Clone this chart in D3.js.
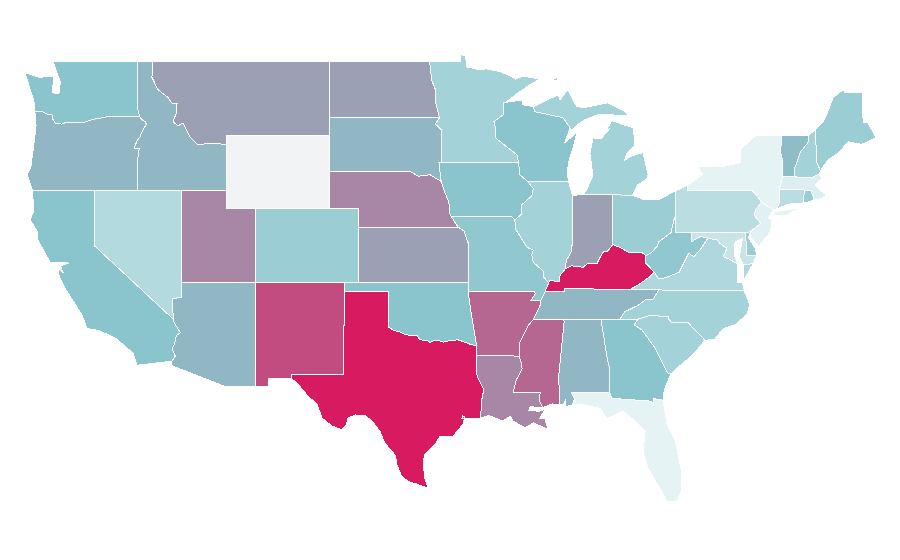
<!DOCTYPE html>
<html>
<head>
<meta charset="utf-8">
<script src="https://cdn.jsdelivr.net/npm/d3@7"></script>
<style>
  html, body { margin: 0; padding: 0; background: #fff; }
  svg { display: block; }
  .state { stroke: #fff; stroke-width: 1px; shape-rendering: crispEdges; }
</style>
</head>
<body>
<div id="map"></div>
<script>
// shared borders, lon/lat, so neighbouring states line up
const columbia = [[-124.03,46.28],[-123.5,46.27],[-123.2,46.15],[-122.87,46.1],[-122.8,45.85],[-122.66,45.65],[-122.2,45.6],[-121.9,45.7],[-120.8,45.67],[-120.1,45.85],[-119.07,46.0],[-116.92,46.0]];
const snake = [[-116.92,46.0],[-116.78,45.85],[-116.55,45.73],[-116.46,45.6],[-116.7,45.28],[-116.9,44.9],[-117.05,44.75],[-117.3,44.3],[-116.95,44.25],[-117.03,43.8],[-117.03,42.0]];
const idMt = [[-116.05,49.0],[-116.08,48.13],[-115.72,47.55],[-115.67,47.47],[-115.0,47.05],[-114.75,46.75],[-114.38,46.7],[-114.45,46.15],[-114.65,45.72],[-114.3,45.5],[-113.97,45.67],[-113.5,44.9],[-112.95,44.47],[-112.3,44.55],[-111.6,44.55],[-111.05,44.47]];
const coloradoRiver = [[-114.63,35.0],[-114.57,34.8],[-114.15,34.27],[-114.43,34.1],[-114.53,33.7],[-114.72,33.4],[-114.5,33.0],[-114.72,32.72]];
const rioGrande = [[-97.34,25.82],[-97.6,25.9],[-98.2,26.07],[-98.7,26.2],[-99.15,26.5],[-99.45,27.1],[-99.55,27.6],[-100.3,28.3],[-100.6,28.9],[-101.14,29.47],[-101.6,29.77],[-102.3,29.8],[-102.77,29.63],[-102.9,29.25],[-103.18,29.0],[-103.86,29.2],[-104.54,29.63],[-104.88,30.4],[-105.5,30.83],[-106.2,31.5],[-106.64,31.8]];
const redRiver = [[-100.0,34.56],[-99.7,34.4],[-99.2,34.3],[-98.9,34.17],[-98.4,34.1],[-98.1,34.13],[-97.9,33.88],[-97.45,33.85],[-97.2,33.75],[-96.9,33.85],[-96.6,33.85],[-96.3,33.75],[-95.8,33.85],[-95.3,33.88],[-94.9,33.77],[-94.48,33.64],[-94.04,33.55]];
const sabine = [[-94.04,33.02],[-94.04,32.0],[-93.8,31.55],[-93.55,31.2],[-93.7,30.6],[-93.7,30.3],[-93.8,29.63]];
const neSd = [[-104.05,43.0],[-98.5,43.0],[-98.0,42.77],[-97.2,42.85],[-96.7,42.6],[-96.45,42.49]];
const neIa = [[-96.45,42.49],[-96.25,42.0],[-96.0,41.5],[-95.9,41.2],[-95.85,40.7],[-95.77,40.58]];
const neMo = [[-95.77,40.58],[-95.3,40.0]];
const ksMo = [[-95.3,40.0],[-94.9,39.8],[-94.6,39.1],[-94.62,37.0]];
const mnWi = [[-92.25,46.76],[-92.25,46.1],[-92.86,45.73],[-92.75,45.3],[-92.75,44.85],[-92.0,44.36],[-91.3,43.93],[-91.2,43.5]];
const iaWi = [[-91.2,43.5],[-91.1,42.84],[-90.6,42.5]];
const iaIl = [[-90.6,42.5],[-90.2,42.1],[-90.3,41.7],[-91.0,41.2],[-91.0,40.7],[-91.45,40.4]];
const moIl = [[-91.45,40.4],[-91.4,39.9],[-90.7,39.0],[-90.6,38.9],[-90.2,38.75],[-90.3,38.5],[-90.2,38.1],[-89.5,37.6],[-89.5,37.3],[-89.15,36.98]];
const moKy = [[-89.15,36.98],[-89.4,36.5]];
const arTn = [[-89.7,36.0],[-89.74,35.74],[-90.2,34.98]];
const arMs = [[-90.2,34.98],[-90.55,34.65],[-91.15,33.67],[-91.15,33.0]];
const laMs = [[-91.15,33.0],[-91.0,32.6],[-90.95,32.3],[-91.35,31.7],[-91.57,31.0],[-89.73,31.0],[-89.8,30.6],[-89.55,30.2]];
const ohKy = [[-82.55,38.45],[-82.85,38.65],[-83.3,38.6],[-83.65,38.6],[-84.3,38.9],[-84.8,39.05]];
const inKy = [[-84.8,39.05],[-85.15,38.7],[-85.45,38.65],[-85.7,38.3],[-85.87,38.03],[-86.2,38.0],[-86.5,38.03],[-86.82,37.82],[-87.23,37.87],[-87.6,37.9],[-88.04,37.72]];
const ilKy = [[-88.04,37.72],[-88.38,37.38],[-88.45,37.05],[-89.06,37.1],[-89.15,36.98]];
const ilIn = [[-87.53,41.7],[-87.53,39.35],[-87.6,38.7],[-87.95,38.2],[-88.04,37.72]];
const alGa = [[-85.6,35.0],[-85.18,32.87],[-85.0,32.3],[-85.05,31.55],[-85.0,31.0]];
const gaSc = [[-83.1,35.0],[-83.35,34.7],[-82.8,34.4],[-81.9,33.4],[-81.4,32.6],[-81.1,32.1],[-80.85,32.03]];
const ncSc = [[-83.1,35.0],[-82.3,35.2],[-81.05,35.15],[-81.05,35.05],[-80.8,34.82],[-79.67,34.8],[-78.55,33.86]];
const ncTn = [[-84.32,35.0],[-84.0,35.4],[-83.1,35.75],[-82.6,36.05],[-82.05,36.1],[-81.68,36.59]];
const kyVa = [[-83.68,36.6],[-83.1,36.85],[-82.3,37.3],[-82.07,37.49],[-81.97,37.54]];
const kyWv = [[-81.97,37.54],[-82.61,38.09],[-82.55,38.45]];
const ohWv = [[-82.55,38.45],[-82.2,38.6],[-81.75,39.0],[-81.7,39.2],[-80.85,39.7],[-80.65,40.4],[-80.52,40.64]];
const vaWv = [[-81.97,37.54],[-81.7,37.2],[-81.25,37.25],[-80.3,37.55],[-79.65,38.58],[-79.3,38.4],[-78.87,38.77],[-78.35,39.4]];
const potomac = [[-78.35,39.4],[-77.75,39.32],[-77.5,39.1],[-77.05,38.85],[-77.3,38.4],[-77.0,38.3],[-76.3,38.0]];
const nyPa = [[-79.76,42.0],[-75.35,42.0],[-75.05,41.75],[-74.7,41.36]];
const njPa = [[-74.7,41.36],[-75.1,40.95],[-75.2,40.65],[-74.75,40.2],[-75.4,39.8]];
const nhVt = [[-71.5,45.0],[-71.55,44.6],[-72.05,44.1],[-72.45,43.2],[-72.46,42.73]];
const rev = a => a.slice().reverse();

const stateNames = ["Alabama","Arizona","Arkansas","California","Colorado","Connecticut","Delaware","Florida","Georgia","Idaho","Illinois","Indiana","Iowa","Kansas","Kentucky","Louisiana","Maine","Maryland","Massachusetts","Michigan","Minnesota","Mississippi","Missouri","Montana","Nebraska","Nevada","New Hampshire","New Jersey","New Mexico","New York","North Carolina","North Dakota","Ohio","Oklahoma","Oregon","Pennsylvania","Rhode Island","South Carolina","South Dakota","Tennessee","Texas","Utah","Vermont","Virginia","Washington","West Virginia","Wisconsin","Wyoming"];
// Wyoming has no value, it gets the blank colour
const stateValues = [45,45,73,40,33,19,33,0,40,45,29,53,40,53,100,62,33,13,4,29,29,73,37,53,62,22,29,2,83,0,29,53,33,40,45,19,33,29,45,45,100,62,43,24,40,37,40,null];

const stateOutlines = [
  /* AL */ [[[-85.6,35.0],...alGa.slice(1),[-87.6,31.0],[-87.4,30.65],[-87.55,30.35],[-88.0,30.25],[-88.0,30.65],[-88.15,30.35],[-88.4,30.35],[-88.47,31.9],[-88.1,34.9],[-88.2,35.0]]],
  /* AZ */ [[[-114.05,37.0],[-109.05,37.0],[-109.05,31.33],[-111.07,31.33],[-114.8,32.5],...rev(coloradoRiver),[-114.7,36.1],[-114.05,36.2]]],
  /* AR */ [[[-94.62,36.5],[-90.15,36.5],[-90.05,36.4],[-90.37,36.0],...arTn,...arMs.slice(1),[-94.04,33.02],[-94.04,33.55],[-94.48,33.64],[-94.43,35.4]]],
  /* CA */ [[[-124.2,42.0],[-120.0,42.0],[-120.0,39.0],...coloradoRiver,[-117.1,32.5],[-117.37,33.17],[-118.6,34.0],[-119.74,34.4],[-120.5,34.5],[-120.83,35.23],[-122.0,36.7],[-122.46,37.5],[-122.45,37.75],[-122.1,37.5],[-122.3,37.9],[-121.7,38.05],[-122.5,38.1],[-123.0,38.1],[-123.82,39.3],[-123.82,39.7],[-124.35,40.4],[-124.1,40.9]]],
  /* CO */ [[[-109.05,41.0],[-102.05,41.0],[-102.05,37.0],[-109.05,37.0]]],
  /* CT */ [[[-73.5,42.05],[-71.8,42.02],[-71.85,41.32],[-72.9,41.25],[-73.65,41.0],[-73.5,41.3]]],
  /* DE */ [[[-75.79,39.72],[-75.6,39.82],[-75.4,39.8],[-75.6,39.45],[-75.1,38.8],[-75.05,38.45],[-75.7,38.46]]],
  /* FL */ [[[-87.6,31.0],[-85.0,31.0],[-84.85,30.7],[-82.2,30.55],[-82.05,30.36],[-82.05,30.7],[-81.39,30.6],[-81.12,29.3],[-80.55,28.4],[-80.23,27.1],[-80.1,26.58],[-80.15,25.7],[-80.44,25.1],[-81.12,25.1],[-81.6,25.8],[-82.4,26.9],[-82.75,27.83],[-82.6,28.92],[-83.3,29.47],[-84.1,30.0],[-85.2,29.6],[-85.66,30.15],[-87.0,30.4],[-87.55,30.35],[-87.4,30.65]]],
  /* GA */ [[[-85.6,35.0],[-84.32,35.0],...gaSc,[-81.3,31.2],[-81.39,30.6],[-82.05,30.7],[-82.05,30.36],[-82.2,30.55],[-84.85,30.7],...rev(alGa)]],
  /* ID */ [[[-117.04,49.0],...idMt,[-111.05,42.0],...rev(snake),[-117.04,46.42]]],
  /* IL */ [[[-90.6,42.5],[-87.8,42.49],...ilIn,...ilKy.slice(1),...rev(moIl).slice(1),...rev(iaIl).slice(1)]],
  /* IN */ [[[-87.53,41.7],[-87.2,41.75],[-86.82,41.76],[-84.8,41.76],...inKy,...rev(ilIn).slice(1)]],
  /* IA */ [[[-96.45,43.5],[-91.2,43.5],...iaWi.slice(1),...iaIl.slice(1),[-91.7,40.6],...rev(neIa),[-96.6,43.5]]],
  /* KS */ [[[-102.05,40.0],...ksMo,[-102.05,37.0]]],
  /* KY */ [[[-89.4,36.5],[-88.05,36.5],[-88.07,36.68],[-86.5,36.65],...kyVa,...kyWv.slice(1),...ohKy.slice(1),...inKy.slice(1),...ilKy.slice(1)]],
  /* LA */ [[...laMs,[-89.7,30.2],[-90.4,30.25],[-90.5,30.05],[-89.8,30.0],[-89.4,30.12],[-89.74,29.63],[-89.4,29.58],[-89.2,29.03],[-90.2,29.37],[-90.76,29.1],[-91.57,29.47],[-91.77,29.74],[-92.25,29.47],[-93.2,29.77],...rev(sabine)]],
  /* ME */ [[[-71.05,45.3],[-70.53,45.73],[-70.2,46.27],[-69.85,47.03],[-69.17,47.47],[-69.03,47.3],[-67.88,47.3],[-67.8,45.67],[-67.47,45.67],[-66.93,44.85],[-67.9,44.5],[-68.8,44.63],[-69.57,43.98],[-70.2,43.65],[-70.7,43.07],[-70.95,43.5]]],
  /* MD */ [[[-79.48,39.72],[-75.79,39.72],[-75.7,38.46],[-75.05,38.45],[-75.25,38.03],[-75.95,37.95],[-76.2,38.4],[-76.0,39.4],[-76.5,39.2],[-76.55,38.5],...rev(potomac),[-78.85,39.5],[-79.48,39.2]]],
  /* MA */ [[[-73.5,42.05],[-73.27,42.75],[-71.3,42.7],[-70.82,42.87],[-70.6,42.65],[-71.05,42.3],[-70.65,41.95],[-70.3,41.75],[-70.65,41.55],[-71.12,41.5],[-71.38,42.02],[-71.8,42.02]]],
  /* MI */ [[[-86.82,41.76],[-84.8,41.76],[-83.45,41.73],[-83.4,41.85],[-83.1,42.3],[-82.5,42.6],[-82.4,42.85],[-82.75,44.05],[-83.4,43.9],[-84.0,43.65],[-83.85,44.0],[-83.3,44.47],[-83.4,45.4],[-84.2,45.6],[-84.85,45.8],[-85.3,45.2],[-85.0,45.37],[-85.6,44.8],[-86.15,44.85],[-86.35,44.0],[-86.15,42.8],[-86.6,42.0]],
           [[-90.2,46.55],[-90.08,46.27],[-88.18,45.95],[-87.7,45.4],[-87.57,45.29],[-87.2,45.56],[-86.68,45.84],[-85.87,46.1],[-84.85,46.1],[-83.63,46.05],[-84.17,46.38],[-85.12,46.76],[-86.7,46.5],[-87.25,46.55],[-87.85,47.47],[-88.38,46.93],[-88.5,47.2],[-89.4,46.85]],
           [[-89.1,47.95],[-88.45,48.17],[-88.6,47.95]]],
  /* MN */ [[[-97.23,49.0],[-95.15,49.0],[-95.15,49.38],[-94.8,49.3],[-94.7,48.7],[-93.8,48.55],[-93.4,48.6],[-92.45,48.45],[-92.0,48.3],[-91.4,48.05],[-90.9,48.2],[-90.1,48.1],[-89.7,48.07],[-90.5,47.7],[-91.3,47.25],[-92.1,46.75],...mnWi,[-96.45,43.5],[-96.45,45.3],[-96.85,45.6],[-96.56,45.94],[-96.8,46.7],[-96.85,47.5],[-97.1,48.0]]],
  /* MS */ [[...arMs,...laMs.slice(1),[-88.9,30.4],[-88.4,30.35],[-88.47,31.9],[-88.1,34.9],[-88.2,35.0]]],
  /* MO */ [[[-95.77,40.58],[-91.7,40.6],...moIl,...moKy.slice(1),[-89.7,36.0],[-90.37,36.0],[-90.05,36.4],[-90.15,36.5],[-94.62,36.5],...rev(ksMo)]],
  /* MT */ [[...idMt,[-111.05,45.0],[-104.05,45.0],[-104.05,49.0]]],
  /* NE */ [[...neSd,...neIa.slice(1),...neMo.slice(1),[-102.05,40.0],[-102.05,41.0],[-104.05,41.0]]],
  /* NV */ [[[-120.0,42.0],[-114.05,42.0],[-114.05,36.2],[-114.7,36.1],[-114.63,35.0],[-120.0,39.0]]],
  /* NH */ [[[-71.5,45.0],[-71.05,45.3],[-70.95,43.5],[-70.7,43.07],[-70.82,42.87],[-71.3,42.7],...rev(nhVt)]],
  /* NJ */ [[...njPa,[-75.5,39.5],[-74.9,38.95],[-74.1,39.75],[-73.98,40.4],[-74.25,40.5],[-73.9,40.95]]],
  /* NM */ [[[-109.05,37.0],[-103.0,37.0],[-103.04,36.5],[-103.05,32.0],[-106.64,32.0],[-106.64,31.8],[-108.2,31.78],[-108.2,31.33],[-109.05,31.33]]],
  /* NY */ [[...nyPa,[-73.9,40.95],[-73.65,41.0],[-73.5,41.3],[-73.5,42.05],[-73.27,42.75],[-73.25,43.6],[-73.4,44.0],[-73.35,45.0],[-75.0,45.0],[-75.3,44.85],[-76.15,44.2],[-76.15,43.5],[-77.5,43.27],[-79.0,43.27],[-78.7,42.85],[-79.76,42.27]],
           [[-74.0,40.6],[-73.75,40.85],[-72.6,40.98],[-72.1,41.05],[-73.0,40.65]]],
  /* NC */ [[...ncTn,[-75.87,36.55],[-75.5,35.8],[-75.7,35.25],[-76.5,34.7],[-77.3,34.5],[-77.9,33.9],...rev(ncSc)]],
  /* ND */ [[[-104.05,49.0],[-97.23,49.0],[-97.1,48.0],[-96.85,47.5],[-96.8,46.7],[-96.56,45.94],[-104.05,45.94]]],
  /* OH */ [[[-84.8,41.76],[-83.45,41.73],[-82.7,41.5],[-81.7,41.5],[-80.52,41.98],...rev(ohWv),...ohKy.slice(1)]],
  /* OK */ [[[-103.0,37.0],[-94.62,37.0],[-94.62,36.5],[-94.43,35.4],...rev(redRiver),[-100.0,36.5],[-103.04,36.5]]],
  /* OR */ [[...columbia,...snake.slice(1),[-124.2,42.0],[-124.55,42.85],[-124.3,43.3],[-124.1,44.5],[-123.95,45.5]]],
  /* PA */ [[[-80.52,41.98],[-79.76,42.27],...nyPa,...njPa.slice(1),[-75.6,39.72],[-80.52,39.72]]],
  /* RI */ [[[-71.8,42.02],[-71.38,42.02],[-71.12,41.5],[-71.5,41.38],[-71.85,41.32]]],
  /* SC */ [[...ncSc,[-79.2,33.2],[-79.9,32.7],[-80.5,32.3],...rev(gaSc)]],
  /* SD */ [[[-104.05,45.94],[-96.56,45.94],[-96.85,45.6],[-96.45,45.3],[-96.45,43.5],[-96.6,43.5],...rev(neSd)]],
  /* TN */ [[[-90.2,34.98],[-88.2,35.0],[-85.6,35.0],...ncTn,[-83.68,36.6],[-86.5,36.65],[-88.07,36.68],[-88.05,36.5],[-89.4,36.5],[-89.7,36.0],[-89.74,35.74]]],
  /* TX */ [[[-103.04,36.5],[-100.0,36.5],...redRiver,...sabine,[-95.03,29.63],[-95.0,29.75],[-94.85,29.7],[-94.96,29.3],[-95.64,28.65],[-96.53,28.65],[-96.87,28.2],[-97.55,27.67],[-97.68,27.2],[-97.55,26.36],...rioGrande,[-106.64,32.0],[-103.05,32.0]]],
  /* UT */ [[[-114.05,42.0],[-111.05,42.0],[-111.05,41.0],[-109.05,41.0],[-109.05,37.0],[-114.05,37.0]]],
  /* VT */ [[[-73.35,45.0],...nhVt,[-73.27,42.75],[-73.25,43.6],[-73.4,44.0]]],
  /* VA */ [[...kyVa,...vaWv.slice(1),...potomac.slice(1),[-76.3,37.0],[-76.0,37.0],[-75.87,36.55],[-81.68,36.59]],
           [[-75.95,37.95],[-75.25,38.03],[-75.9,37.15]]],
  /* WA */ [[[-122.8,49.0],[-117.04,49.0],[-117.04,46.42],...rev(columbia),[-124.1,46.9],[-124.4,47.6],[-124.7,48.4],[-123.7,48.13],[-123.14,48.2],[-122.75,48.15],[-122.85,47.3],[-122.4,47.25],[-122.3,47.9],[-122.55,48.4]]],
  /* WV */ [[[-80.52,40.64],[-80.52,39.72],[-79.48,39.72],[-79.48,39.2],[-78.85,39.5],...rev(vaWv),...kyWv.slice(1),...ohWv.slice(1)]],
  /* WI */ [[...mnWi,...iaWi.slice(1),[-87.8,42.49],[-87.9,43.0],[-87.75,43.7],[-87.5,44.3],[-87.2,45.25],[-87.5,44.95],[-88.05,44.6],[-87.7,45.4],[-88.18,45.95],[-90.08,46.27],[-90.2,46.55],[-90.9,46.65],[-90.9,46.92]]],
  /* WY */ [[[-111.05,45.0],[-104.05,45.0],[-104.05,41.0],[-111.05,41.0]]]
];

const width = 900, height = 560;

const x = d3.scaleLinear().domain([-124.7, -67]).range([25, 875]);
const y = d3.scaleLinear().domain([49, 25.1]).range([61.5, 501.5]);

const color = d3.scaleLinear()
  .domain([0, 40, 100])
  .range(["#e6f3f5", "#8ac5cd", "#d81b60"]);

const path = d3.geoPath(d3.geoTransform({
  point(lon, lat) { this.stream.point(x(lon), y(lat)); }
}));

const features = stateNames.map((name, i) => ({
  type: "Feature",
  properties: { name: name, value: stateValues[i] },
  geometry: { type: "MultiPolygon", coordinates: stateOutlines[i].map(ring => [ring.concat([ring[0]])]) }
}));

const svg = d3.select("#map").append("svg")
  .attr("width", width)
  .attr("height", height);

svg.selectAll(".state")
  .data(features)
  .enter().append("path")
  .attr("class", "state")
  .attr("d", path)
  .attr("fill", d => d.properties.value === null ? "#f2f3f5" : color(d.properties.value));
</script>
</body>
</html>
